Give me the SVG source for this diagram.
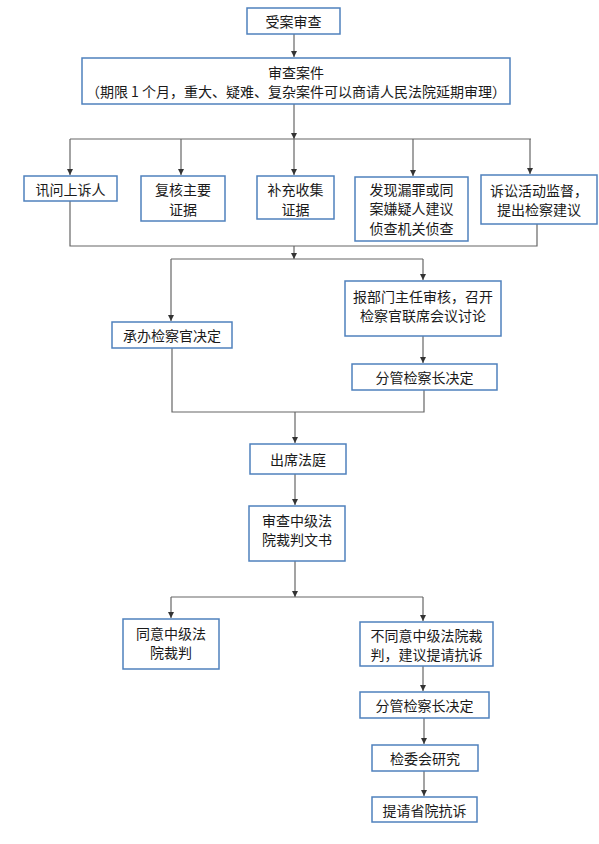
<svg xmlns="http://www.w3.org/2000/svg" width="599" height="844" viewBox="0 0 599 844">
<defs>
<style>
.box{fill:#ffffff;stroke:#4f81bd;stroke-width:1.5}
.t{font-family:"Noto Sans CJK SC","Noto Sans",sans-serif;font-size:14px;fill:#1a1a1a;text-anchor:middle;dominant-baseline:central}
.c{fill:none;stroke:#666666;stroke-width:1.2}
.a{marker-end:url(#ah)}
</style>
<marker id="ah" markerUnits="userSpaceOnUse" markerWidth="6" markerHeight="6" refX="6" refY="3" orient="auto">
<path d="M0,0 L6,3 L0,6 z" fill="#333333"/>
</marker>
</defs>
<rect width="599" height="844" fill="#ffffff"/>
<g id="connectors">
<path class="c a" d="M294,34 V57"/>
<path class="c a" d="M294,104 V139"/>
<path class="c" d="M70,139 H531"/>
<path class="c a" d="M70,139 V175"/>
<path class="c a" d="M181,139 V175"/>
<path class="c a" d="M294,139 V175"/>
<path class="c a" d="M413,139 V176"/>
<path class="c a" d="M530,139 V174"/>
<path class="c" d="M70,201 V246 H537 V224"/>
<path class="c a" d="M294,246 V259"/>
<path class="c" d="M171,259 H423"/>
<path class="c a" d="M171,259 V321"/>
<path class="c a" d="M423,259 V280"/>
<path class="c a" d="M423,336 V363"/>
<path class="c" d="M172,348 V412 H424 V390"/>
<path class="c a" d="M295,412 V443"/>
<path class="c a" d="M295,474 V505"/>
<path class="c a" d="M295,561 V597"/>
<path class="c" d="M171,597 H423"/>
<path class="c a" d="M171,597 V618"/>
<path class="c a" d="M423,597 V621"/>
<path class="c a" d="M423,666 V691"/>
<path class="c a" d="M424,718 V744"/>
<path class="c a" d="M424,771 V796"/>
</g>
<g id="n1"><rect class="box" x="247" y="8" width="93" height="26"/><text class="t" x="293.5" y="21">受案审查</text></g>
<g id="n2"><rect class="box" x="82" y="58" width="428" height="46"/><text class="t" x="296" y="72">审查案件</text><text class="t" x="296" y="91">（期限 1 个月，重大、疑难、复杂案件可以商请人民法院延期审理）</text></g>
<g id="n3"><rect class="box" x="24" y="176" width="93" height="25"/><text class="t" x="70.5" y="189">讯问上诉人</text></g>
<g id="n4"><rect class="box" x="141" y="176" width="84" height="45"/><text class="t" x="183" y="189">复核主要</text><text class="t" x="183" y="208.5">证据</text></g>
<g id="n5"><rect class="box" x="257" y="176" width="77" height="43"/><text class="t" x="295.5" y="189">补充收集</text><text class="t" x="295.5" y="208.5">证据</text></g>
<g id="n6"><rect class="box" x="355" y="177" width="113" height="64"/><text class="t" x="411.5" y="188.5">发现漏罪或同</text><text class="t" x="411.5" y="208">案嫌疑人建议</text><text class="t" x="411.5" y="227.5">侦查机关侦查</text></g>
<g id="n7"><rect class="box" x="481" y="175" width="116" height="49"/><text class="t" x="539" y="190">诉讼活动监督，</text><text class="t" x="539" y="209">提出检察建议</text></g>
<g id="n8"><rect class="box" x="112" y="322" width="120" height="26"/><text class="t" x="172" y="335">承办检察官决定</text></g>
<g id="n9"><rect class="box" x="345" y="281" width="156" height="55"/><text class="t" x="423" y="296">报部门主任审核，召开</text><text class="t" x="423" y="315">检察官联席会议讨论</text></g>
<g id="n10"><rect class="box" x="352" y="364" width="145" height="26"/><text class="t" x="424.5" y="377">分管检察长决定</text></g>
<g id="n11"><rect class="box" x="250" y="444" width="96" height="30"/><text class="t" x="298" y="459">出席法庭</text></g>
<g id="n12"><rect class="box" x="249" y="506" width="96" height="55"/><text class="t" x="297" y="520">审查中级法</text><text class="t" x="297" y="539">院裁判文书</text></g>
<g id="n13"><rect class="box" x="123" y="619" width="96" height="50"/><text class="t" x="171" y="633">同意中级法</text><text class="t" x="171" y="652">院裁判</text></g>
<g id="n14"><rect class="box" x="360" y="622" width="133" height="44"/><text class="t" x="426.5" y="634.5">不同意中级法院裁</text><text class="t" x="426.5" y="654">判，建议提请抗诉</text></g>
<g id="n15"><rect class="box" x="360" y="692" width="129" height="26"/><text class="t" x="424.5" y="705">分管检察长决定</text></g>
<g id="n16"><rect class="box" x="372" y="745" width="106" height="26"/><text class="t" x="425" y="758">检委会研究</text></g>
<g id="n17"><rect class="box" x="372" y="797" width="105" height="25"/><text class="t" x="424.5" y="809.5">提请省院抗诉</text></g>
</svg>
